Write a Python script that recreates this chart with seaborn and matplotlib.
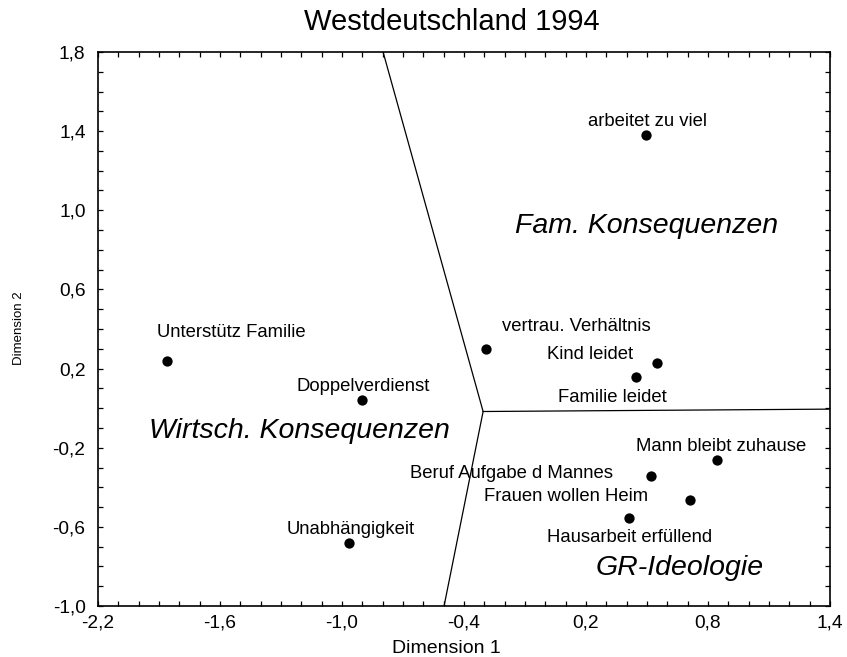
import matplotlib
matplotlib.use("Agg")
import matplotlib.pyplot as plt
import seaborn as sns
import pandas as pd
from matplotlib.ticker import MultipleLocator

# ---- data ----
items = ["Unterstütz Familie", "Doppelverdienst", "Unabhängigkeit",
         "arbeitet zu viel", "vertrau. Verhältnis", "Kind leidet",
         "Familie leidet", "Mann bleibt zuhause", "Beruf Aufgabe d Mannes",
         "Frauen wollen Heim", "Hausarbeit erfüllend"]
dim1 = [-1.861, -0.901, -0.965, 0.496, -0.292, 0.550, 0.446, 0.845, 0.520, 0.712, 0.412]
dim2 = [0.239, 0.042, -0.681, 1.381, 0.299, 0.229, 0.158, -0.262, -0.342, -0.464, -0.555]
# label anchor points (data coords)
label_x = [-1.546, -0.897, -0.956, 0.500, 0.151, 0.220, 0.328, 0.864, -0.164, 0.102, 0.416]
label_y = [0.360, 0.087, -0.636, 1.426, 0.390, 0.248, 0.031, -0.217, -0.353, -0.469, -0.676]

regions = ["Fam. Konsequenzen", "Wirtsch. Konsequenzen", "GR-Ideologie"]
region_x = [0.500, -1.211, 0.662]
region_y = [0.885, -0.151, -0.843]

# region boundaries: junction and end points
junction = (-0.306, -0.017)
bound_ends_x = [-0.798, 1.4, -0.498]
bound_ends_y = [1.8, -0.005, -1.0]

xticks = [-2.2, -1.6, -1.0, -0.4, 0.2, 0.8, 1.4]
xticklabels = ["-2,2", "-1,6", "-1,0", "-0,4", "0,2", "0,8", "1,4"]
yticks = [1.8, 1.4, 1.0, 0.6, 0.2, -0.2, -0.6, -1.0]
yticklabels = ["1,8", "1,4", "1,0", "0,6", "0,2", "-0,2", "-0,6", "-1,0"]

title = "Westdeutschland 1994"
xlabel = "Dimension 1"
ylabel = "Dimension 2"

# ---- style ----
sns.set_style("white")
plt.rcParams['font.family'] = ['Liberation Sans', 'DejaVu Sans']
plt.rcParams['text.color'] = 'black'

W, H = 847, 657
fig = plt.figure(figsize=(W / 100, H / 100), dpi=100)
ax = fig.add_axes([98 / W, 1 - 606 / H, (830 - 98) / W, (606 - 52) / H])

df = pd.DataFrame({"dim1": dim1, "dim2": dim2, "item": items})
sns.scatterplot(data=df, x="dim1", y="dim2", ax=ax, color="black",
                s=55, edgecolor="black", linewidth=0, zorder=3)

for ex, ey in zip(bound_ends_x, bound_ends_y):
    ax.plot([junction[0], ex], [junction[1], ey], color="black", lw=0.9, zorder=2)

for lab, lx, ly in zip(items, label_x, label_y):
    ax.text(lx, ly, lab, ha="center", va="baseline", fontsize=13.3, color="black")

for lab, rx, ry in zip(regions, region_x, region_y):
    ax.text(rx, ry, lab, ha="center", va="baseline", fontsize=20.5, style="italic", color="black")

ax.set_xlim(-2.2, 1.4)
ax.set_ylim(-1.0, 1.8)
ax.set_xticks(xticks)
ax.set_xticklabels(xticklabels)
ax.set_yticks(yticks)
ax.set_yticklabels(yticklabels)
ax.xaxis.set_minor_locator(MultipleLocator(0.1))
ax.yaxis.set_minor_locator(MultipleLocator(0.1))
ax.tick_params(which="both", direction="in", top=True, right=True,
               bottom=True, left=True, length=3.5, width=0.9, color="black",
               labelsize=13.8, labelcolor="black")
ax.tick_params(axis="x", which="major", pad=6)
ax.tick_params(axis="y", which="major", pad=9)
ax.set_xlabel("")
ax.set_ylabel("")
for sp in ax.spines.values():
    sp.set_color("black")
    sp.set_linewidth(1.2)
    sp.set_visible(True)

fig.text(452 / W, 1 - 30 / H, title, ha="center", va="baseline", fontsize=21, color="black")
fig.text(446 / W, 1 - 653 / H, xlabel, ha="center", va="baseline", fontsize=14, color="black")
fig.text(19 / W, 1 - 328 / H, ylabel, ha="center", va="center", rotation=90, fontsize=9.5, color="black")

fig.savefig("out.png", dpi=100, facecolor="white")
